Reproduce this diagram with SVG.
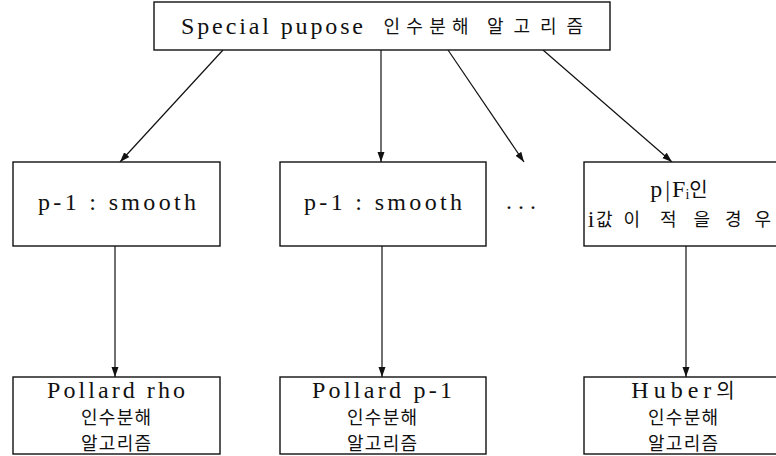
<svg xmlns="http://www.w3.org/2000/svg" width="776" height="456" viewBox="0 0 776 456">
<style>
.box{fill:#fff;stroke:#111;stroke-width:1.4}
.t{font-family:"Liberation Serif","Noto Sans CJK KR",serif;font-size:24px;fill:#111;text-anchor:middle}
.k{font-family:"Noto Sans CJK KR","Liberation Serif",sans-serif;font-size:18px;fill:#111;text-anchor:middle}
.ks{font-family:"Noto Sans CJK KR",sans-serif;font-size:20px}
.lat{font-family:"Liberation Serif",serif;font-size:24px}
.c{stroke:#111;stroke-width:1.2;fill:none;marker-end:url(#ah)}
</style>
<defs>
<marker id="ah" viewBox="0 0 10 10" refX="10" refY="5" markerWidth="10" markerHeight="10" markerUnits="userSpaceOnUse" orient="auto">
<path d="M0,1.5 L10,5 L0,8.5 z" fill="#111"/>
</marker>
</defs>
<g id="connectors">
<line class="c" x1="223" y1="50" x2="120" y2="162"/>
<line class="c" x1="381" y1="50" x2="381" y2="162"/>
<line class="c" x1="448" y1="50" x2="524" y2="162"/>
<line class="c" x1="543" y1="50" x2="672" y2="162"/>
<line class="c" x1="115" y1="246" x2="115" y2="377"/>
<line class="c" x1="382" y1="246" x2="382" y2="377"/>
<line class="c" x1="686" y1="246" x2="686" y2="377"/>
</g>
<g id="top">
<rect class="box" x="154" y="2" width="456" height="48"/>
<text class="t" x="272" y="34" textLength="182" lengthAdjust="spacing">Special pupose</text>
<text class="k" x="426" y="33" font-size="20" textLength="85" lengthAdjust="spacing">인수분해</text>
<text class="k" x="535" y="33" font-size="20" textLength="96" lengthAdjust="spacing">알고리즘</text>
</g>
<g id="m1">
<rect class="box" x="13" y="162" width="207" height="84"/>
<text class="t" x="117" y="210" textLength="158" lengthAdjust="spacing">p-1 : smooth</text>
</g>
<g id="m2">
<rect class="box" x="280" y="162" width="206" height="84"/>
<text class="t" x="383" y="210" textLength="158" lengthAdjust="spacing">p-1 : smooth</text>
</g>
<g id="dots">
<text class="t" x="521" y="209" textLength="30" lengthAdjust="spacing">...</text>
</g>
<g id="m3">
<rect class="box" x="584" y="162" width="194" height="84"/>
<text class="t" x="679" y="197">p<tspan dx="3">|</tspan><tspan dx="2">F</tspan><tspan font-size="14" dy="2">i</tspan><tspan class="ks" dy="-2">인</tspan></text>
<text class="t" x="591" y="227">i</text>
<text class="k" x="618" y="226" font-size="20" textLength="44" lengthAdjust="spacing">값이</text>
<text class="k" x="685" y="226" font-size="20" textLength="50" lengthAdjust="spacing">적을</text>
<text class="k" x="748" y="226" font-size="20" textLength="46" lengthAdjust="spacing">경우</text>
</g>
<g id="b1">
<rect class="box" x="13" y="377" width="207" height="77"/>
<text class="k"><tspan class="lat" x="116" y="398" textLength="138" lengthAdjust="spacing">Pollard rho</tspan><tspan x="116" y="424" textLength="70" lengthAdjust="spacing">인수분해</tspan><tspan x="116" y="450" textLength="70" lengthAdjust="spacing">알고리즘</tspan></text>
</g>
<g id="b2">
<rect class="box" x="280" y="377" width="206" height="77"/>
<text class="k"><tspan class="lat" x="382" y="398" textLength="140" lengthAdjust="spacing">Pollard p-1</tspan><tspan x="382" y="424" textLength="70" lengthAdjust="spacing">인수분해</tspan><tspan x="382" y="450" textLength="70" lengthAdjust="spacing">알고리즘</tspan></text>
</g>
<g id="b3">
<rect class="box" x="584" y="377" width="194" height="77"/>
<text class="k"><tspan x="683" y="398"><tspan class="lat" textLength="80" lengthAdjust="spacing">Huber</tspan><tspan class="ks">의</tspan></tspan><tspan x="683" y="424" textLength="70" lengthAdjust="spacing">인수분해</tspan><tspan x="683" y="450" textLength="70" lengthAdjust="spacing">알고리즘</tspan></text>
</g>
</svg>
